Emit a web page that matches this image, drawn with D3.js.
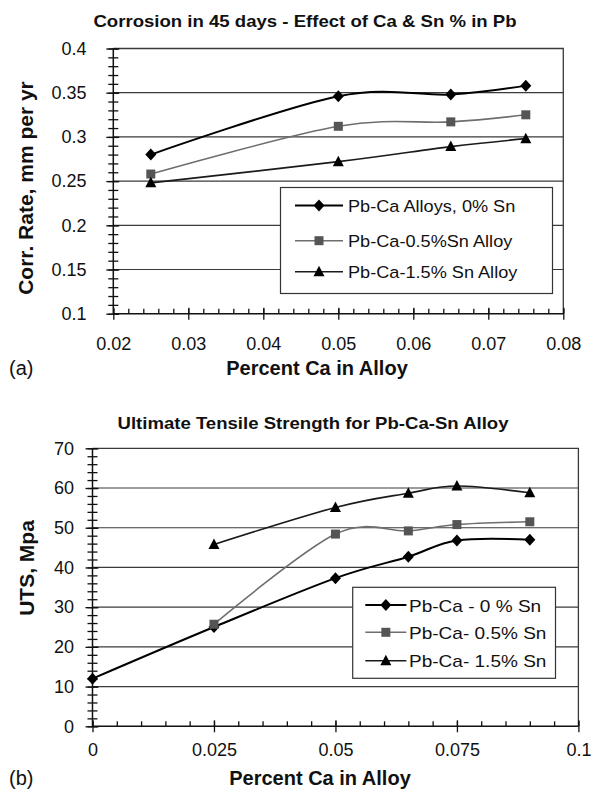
<!DOCTYPE html>
<html>
<head>
<meta charset="utf-8">
<script src="https://cdn.jsdelivr.net/npm/d3@7"></script>
<style>
  body { margin: 0; background: #fff; }
  svg { display: block; font-family: "Liberation Sans", Arial, sans-serif; }
</style>
</head>
<body>
<svg id="chart" width="597" height="793"></svg>
<script>
// ---- data, panel (a): corrosion rate vs Ca %
const caA = [0.025, 0.05, 0.065, 0.075];
const corr0Sn = [0.280, 0.346, 0.348, 0.358];
const corr05Sn = [0.258, 0.312, 0.317, 0.325];
const corr15Sn = [0.248, 0.272, 0.289, 0.298];
const namesA = ["Pb-Ca Alloys, 0% Sn", "Pb-Ca-0.5%Sn Alloy", "Pb-Ca-1.5% Sn Alloy"];
const xTicksA = [0.02, 0.03, 0.04, 0.05, 0.06, 0.07, 0.08];
const yTicksA = [0.1, 0.15, 0.2, 0.25, 0.3, 0.35, 0.4];

// ---- data, panel (b): UTS vs Ca %
const caB0 = [0, 0.025, 0.05, 0.065, 0.075, 0.09];
const uts0Sn = [12, 25, 37.3, 42.7, 46.8, 47];
const caB = [0.025, 0.05, 0.065, 0.075, 0.09];
const uts05Sn = [25.7, 48.4, 49.2, 50.8, 51.5];
const uts15Sn = [45.8, 55.1, 58.7, 60.5, 58.8];
const namesB = ["Pb-Ca - 0 % Sn", "Pb-Ca- 0.5% Sn", "Pb-Ca- 1.5% Sn"];
const xTicksB = [0, 0.025, 0.05, 0.075, 0.1];
const yTicksB = [0, 10, 20, 30, 40, 50, 60, 70];

const svg = d3.select("#chart");
const trim = d => String(+d.toFixed(3));

// series styles: diamond black, square grey, triangle dark
const styles = [
    { type: "diamond", line: "#000", lw: 2, fill: "#000" },
    { type: "square", line: "#6e6e6e", lw: 1.6, fill: "#555" },
    { type: "triangle", line: "#1a1a1a", lw: 1.6, fill: "#000" }
];

function markerPath(type) {
    if (type === "diamond") return "M0,-6L5.5,0L0,6L-5.5,0Z";
    if (type === "square") return "M-4.5,-4.5H4.5V4.5H-4.5Z";
    return "M0,-6L5.5,4.5H-5.5Z";
}

function label(g, x, y, str, o) {
    return g.append("text")
        .attr("transform", "translate(" + x + "," + y + ")" + (o.rot ? " rotate(" + o.rot + ")" : "") + " scale(" + (o.sx || 1) + ",1)")
        .attr("text-anchor", o.anchor || "start")
        .attr("font-size", o.size)
        .attr("font-weight", o.bold ? "bold" : "normal")
        .attr("fill", "#111")
        .text(str);
}

function panel(cfg) {
    const g = svg.append("g");
    const x = d3.scaleLinear().domain(cfg.xDomain).range(cfg.xRange);
    const y = d3.scaleLinear().domain(cfg.yDomain).range(cfg.yRange);
    const [x0, x1] = cfg.xRange;
    const [y0, y1] = cfg.yRange;

    // gridlines
    g.selectAll("line.grid")
        .data(cfg.yTicks.filter(d => d !== cfg.yDomain[0] && d !== cfg.yDomain[1]))
        .enter().append("line")
        .attr("x1", x0).attr("x2", x1)
        .attr("y1", d => y(d)).attr("y2", d => y(d))
        .attr("stroke", "#3a3a3a").attr("stroke-width", 1.2);

    // frame top / right
    g.append("path")
        .attr("d", "M" + x0 + "," + y1 + "H" + x1 + "V" + y0)
        .attr("fill", "none").attr("stroke", "#3a3a3a").attr("stroke-width", 1.3);

    // y axis: major + minor ticks crossing the axis
    const yMinor = d3.range(cfg.yDomain[0], cfg.yDomain[1] + 1e-9, cfg.yMinorStep);
    const xMinor = d3.range(cfg.xDomain[0], cfg.xDomain[1] + 1e-9, cfg.xMinorStep);
    const ax = g.append("g").attr("transform", "translate(" + x0 + ",0)");
    ax.append("g").call(d3.axisLeft(y).tickValues(yMinor).tickSize(5).tickFormat(""));
    ax.append("g").call(d3.axisRight(y).tickValues(yMinor).tickSize(5).tickFormat(""));
    ax.append("g").call(d3.axisRight(y).tickValues(cfg.yTicks).tickSize(6).tickFormat(""));
    ax.append("g").call(d3.axisLeft(y).tickValues(cfg.yTicks).tickSize(7)
        .tickPadding(cfg.yPad).tickFormat(trim));

    const bx = g.append("g").attr("transform", "translate(0," + y0 + ")");
    bx.append("g").call(d3.axisTop(x).tickValues(xMinor).tickSize(5).tickFormat(""));
    bx.append("g").call(d3.axisTop(x).tickValues(cfg.xTicks).tickSize(6).tickFormat(""));
    bx.append("g").call(d3.axisBottom(x).tickValues(cfg.xTicks).tickSize(6)
        .tickPadding(cfg.xPad).tickFormat(cfg.xFmt));

    g.selectAll(".domain").remove();
    g.selectAll(".tick line").attr("stroke", "#111").attr("stroke-width", 1.3);
    g.selectAll(".tick text").attr("font-size", 18).attr("fill", "#111")
        .attr("font-family", "Liberation Sans, Arial, sans-serif");

    // axis lines
    g.append("line").attr("x1", x0).attr("x2", x0).attr("y1", y0).attr("y2", y1)
        .attr("stroke", "#111").attr("stroke-width", 1.5);
    g.append("line").attr("x1", x0).attr("x2", x1).attr("y1", y0).attr("y2", y0)
        .attr("stroke", "#111").attr("stroke-width", 1.5);

    // series
    const line = d3.line()
        .x(d => x(d[0])).y(d => y(d[1]))
        .curve(d3.curveCardinal.tension(0));
    cfg.series.forEach((s, i) => {
        const st = styles[i];
        const pts = s.x.map((v, j) => [v, s.y[j]]);
        g.append("path").datum(pts)
            .attr("d", line)
            .attr("fill", "none").attr("stroke", st.line).attr("stroke-width", st.lw);
        g.selectAll("path.m" + i).data(pts).enter().append("path")
            .attr("class", "m" + i)
            .attr("d", markerPath(st.type))
            .attr("transform", d => "translate(" + x(d[0]) + "," + y(d[1]) + ")")
            .attr("fill", st.fill);
    });

    // legend
    const L = cfg.legend;
    g.append("rect")
        .attr("x", L.x).attr("y", L.y).attr("width", L.w).attr("height", L.h)
        .attr("fill", "#fff").attr("stroke", "#333").attr("stroke-width", 1.2);
    cfg.series.forEach((s, i) => {
        const st = styles[i];
        const ry = L.rows[i];
        g.append("line").attr("x1", L.lx0).attr("x2", L.lx1).attr("y1", ry).attr("y2", ry)
            .attr("stroke", st.line).attr("stroke-width", st.lw);
        g.append("path").attr("d", markerPath(st.type))
            .attr("transform", "translate(" + ((L.lx0 + L.lx1) / 2) + "," + ry + ")")
            .attr("fill", st.fill);
        label(g, L.tx, ry + 6.5, s.name, { size: L.size, sx: L.sx });
    });

    // titles
    label(g, cfg.title.x, cfg.title.y, cfg.title.text, { size: 16.3, bold: true, anchor: "middle", sx: 1.14 });
    label(g, cfg.xTitle.x, cfg.xTitle.y, "Percent Ca in Alloy", { size: 20, bold: true, anchor: "middle" });
    label(g, cfg.yTitle.x, cfg.yTitle.y, cfg.yTitle.text, { size: 21, bold: true, anchor: "middle", rot: -90 });
    label(g, 9, cfg.xTitle.y, cfg.tag, { size: 20 });
}

panel({
    xDomain: [0.02, 0.08], xRange: [113.3, 563.3],
    yDomain: [0.1, 0.4], yRange: [313.7, 48.5],
    xTicks: xTicksA, yTicks: yTicksA, xMinorStep: 0.002, yMinorStep: 0.01,
    xFmt: d3.format(".2f"), xPad: 18, yPad: 19.8,
    series: [
        { name: namesA[0], x: caA, y: corr0Sn },
        { name: namesA[1], x: caA, y: corr05Sn },
        { name: namesA[2], x: caA, y: corr15Sn }
    ],
    legend: { x: 280.5, y: 187.5, w: 272, h: 106, rows: [205.5, 240.7, 271.7],
              lx0: 295, lx1: 343, tx: 348, size: 16.5, sx: 1.1 },
    title: { x: 305, y: 26.7, text: "Corrosion in 45 days - Effect of Ca & Sn % in Pb" },
    xTitle: { x: 317, y: 374.5 },
    yTitle: { x: 33, y: 188, text: "Corr. Rate, mm per yr" },
    tag: "(a)"
});

panel({
    xDomain: [0, 0.1], xRange: [92.5, 578.4],
    yDomain: [0, 70], yRange: [726.3, 448.3],
    xTicks: xTicksB, yTicks: yTicksB, xMinorStep: 0.005, yMinorStep: 2,
    xFmt: trim, xPad: 11, yPad: 11.5,
    series: [
        { name: namesB[0], x: caB0, y: uts0Sn },
        { name: namesB[1], x: caB, y: uts05Sn },
        { name: namesB[2], x: caB, y: uts15Sn }
    ],
    legend: { x: 352.7, y: 587.3, w: 202.8, h: 91, rows: [605, 632.3, 660.7],
              lx0: 365.3, lx1: 406.4, tx: 409, size: 17, sx: 1.12 },
    title: { x: 313, y: 429, text: "Ultimate Tensile Strength for Pb-Ca-Sn Alloy" },
    xTitle: { x: 320, y: 785 },
    yTitle: { x: 34, y: 568, text: "UTS, Mpa" },
    tag: "(b)"
});
</script>
</body>
</html>
